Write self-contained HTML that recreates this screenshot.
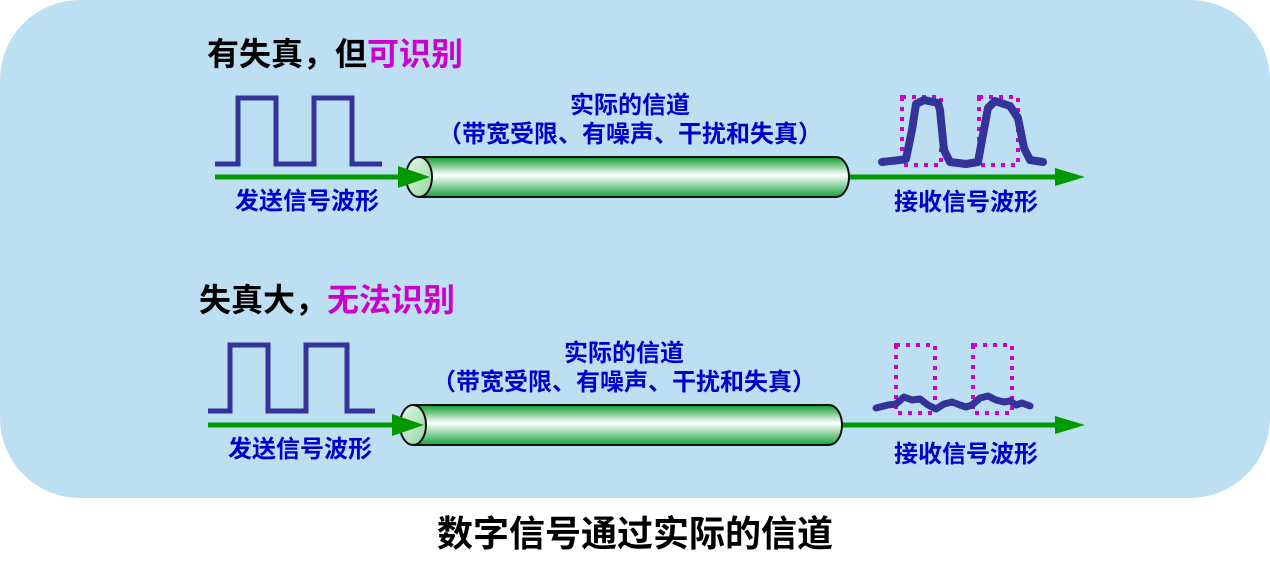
<!DOCTYPE html>
<html><head><meta charset="utf-8"><style>
body{margin:0;background:#fff;}
svg{display:block;}
text{font-family:"Liberation Sans","Noto Sans CJK SC",sans-serif;font-weight:bold;}
</style></head><body>
<svg width="1270" height="564" viewBox="0 0 1270 564" xmlns="http://www.w3.org/2000/svg">
<defs>
<linearGradient id="cyl" x1="0" y1="0" x2="0" y2="1">
<stop offset="0" stop-color="#0e9a2e"/>
<stop offset="0.45" stop-color="#ffffff"/>
<stop offset="1" stop-color="#12a23a"/>
</linearGradient>
<linearGradient id="cap" x1="0" y1="0" x2="1" y2="1">
<stop offset="0" stop-color="#e8f8ea"/>
<stop offset="1" stop-color="#8fd79e"/>
</linearGradient>
</defs>
<rect x="0" y="0" width="1270" height="498" rx="80" fill="#bddff2"/>

<!-- TOP -->
<text x="207" y="65" font-size="32" fill="#000">有失真，但<tspan fill="#cc00cc">可识别</tspan></text>
<polyline points="215,164 238,164 238,98 276,98 276,164 314,164 314,98 352,98 352,164 382,164" fill="none" stroke="#333399" stroke-width="5"/>
<line x1="215" y1="177" x2="405" y2="177" stroke="#009900" stroke-width="5"/>
<text x="307" y="209" font-size="24" fill="#0000cc" text-anchor="middle">发送信号波形</text>
<text x="630" y="113" font-size="24" fill="#0000cc" text-anchor="middle">实际的信道</text>
<text x="630" y="142" font-size="24" fill="#0000cc" text-anchor="middle">（带宽受限、有噪声、干扰和失真）</text>
<line x1="845" y1="177" x2="1058" y2="177" stroke="#009900" stroke-width="5"/>
<polygon points="1055,168 1085,177 1055,186" fill="#009900"/>
<path d="M419,157 L836,157 A13,20 0 0 1 836,197 L419,197 Z" fill="url(#cyl)" stroke="#111" stroke-width="2"/>
<ellipse cx="419" cy="177" rx="13" ry="20" fill="url(#cap)" stroke="#111" stroke-width="2"/>
<polygon points="398,166 430,177 398,188" fill="#009900"/>
<rect x="902" y="97" width="39" height="68" fill="none" stroke="#cc00cc" stroke-width="4" stroke-dasharray="4,6"/>
<rect x="979" y="97" width="39" height="68" fill="none" stroke="#cc00cc" stroke-width="4" stroke-dasharray="4,6"/>
<path d="M882,162 L900,160 L906,159 L912,130 L916,104 L924,100 L938,103 L940,110 L944,150 L950,162 L966,164 L978,162 L982,140 L988,108 L995,101 L1010,106 L1018,118 L1024,148 L1030,160 L1043,162" fill="none" stroke="#333399" stroke-width="8" stroke-linejoin="round" stroke-linecap="round"/>
<text x="966" y="210" font-size="24" fill="#0000cc" text-anchor="middle">接收信号波形</text>

<!-- BOTTOM -->
<text x="199" y="311" font-size="32" fill="#000">失真大，<tspan fill="#cc00cc">无法识别</tspan></text>
<polyline points="208,411 230,411 230,345 268,345 268,411 306,411 306,345 347,345 347,411 375,411" fill="none" stroke="#333399" stroke-width="5"/>
<line x1="208" y1="425" x2="395" y2="425" stroke="#009900" stroke-width="5"/>
<text x="300" y="457" font-size="24" fill="#0000cc" text-anchor="middle">发送信号波形</text>
<text x="624" y="361" font-size="24" fill="#0000cc" text-anchor="middle">实际的信道</text>
<text x="624" y="390" font-size="24" fill="#0000cc" text-anchor="middle">（带宽受限、有噪声、干扰和失真）</text>
<line x1="838" y1="425" x2="1058" y2="425" stroke="#009900" stroke-width="5"/>
<polygon points="1055,416 1085,425 1055,434" fill="#009900"/>
<path d="M413,405 L829,405 A13,20 0 0 1 829,445 L413,445 Z" fill="url(#cyl)" stroke="#111" stroke-width="2"/>
<ellipse cx="413" cy="425" rx="13" ry="20" fill="url(#cap)" stroke="#111" stroke-width="2"/>
<polygon points="392,414 424,425 392,436" fill="#009900"/>
<rect x="896" y="345" width="39" height="68" fill="none" stroke="#cc00cc" stroke-width="4" stroke-dasharray="4,6"/>
<rect x="973" y="345" width="39" height="68" fill="none" stroke="#cc00cc" stroke-width="4" stroke-dasharray="4,6"/>
<path d="M876,408 L888,405 L896,404 L904,397 L912,400 L920,399 L928,405 L936,409 L944,404 L952,402 L960,405 L966,407 L972,405 L980,398 L988,396 L996,400 L1004,402 L1010,401 L1016,405 L1022,403 L1030,406" fill="none" stroke="#333399" stroke-width="7" stroke-linejoin="round" stroke-linecap="round"/>
<text x="966" y="462" font-size="24" fill="#0000cc" text-anchor="middle">接收信号波形</text>

<text x="635" y="546" font-size="36" fill="#000" text-anchor="middle">数字信号通过实际的信道</text>
</svg>
</body></html>
